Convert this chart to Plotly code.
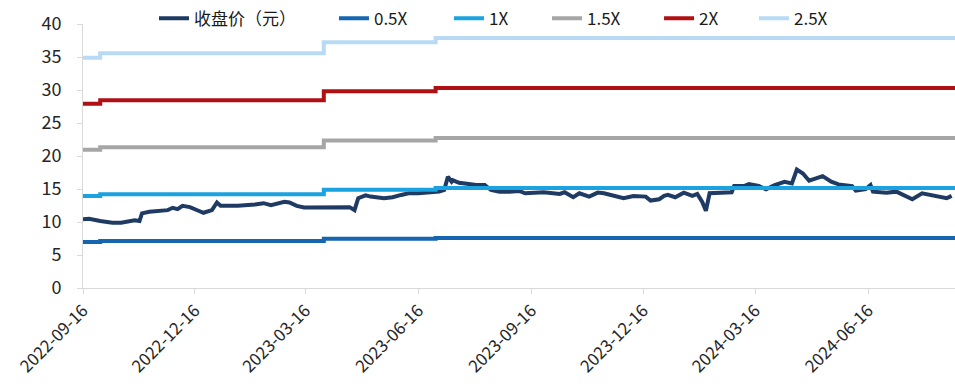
import plotly.graph_objects as go

# Closing price (yuan), sampled trading days
price_dates = [
    "2022-09-16", "2022-09-21", "2022-09-30", "2022-10-10", "2022-10-17", "2022-10-24",
    "2022-10-28", "2022-11-01", "2022-11-03", "2022-11-09", "2022-11-17", "2022-11-24",
    "2022-11-28", "2022-12-02", "2022-12-06", "2022-12-12", "2022-12-19", "2022-12-23",
    "2022-12-30", "2023-01-03", "2023-01-06", "2023-01-13", "2023-01-20", "2023-02-03",
    "2023-02-10", "2023-02-16", "2023-02-27", "2023-03-03", "2023-03-09", "2023-03-15",
    "2023-03-27", "2023-04-10", "2023-04-21", "2023-04-25", "2023-04-28", "2023-05-04",
    "2023-05-08", "2023-05-19", "2023-05-26", "2023-06-02", "2023-06-08", "2023-06-16",
    "2023-06-26", "2023-07-03", "2023-07-07", "2023-07-10", "2023-07-13", "2023-07-14",
    "2023-07-19", "2023-07-24", "2023-07-27", "2023-08-02", "2023-08-09", "2023-08-14",
    "2023-08-21", "2023-08-29", "2023-09-06", "2023-09-11", "2023-09-18", "2023-09-26",
    "2023-10-09", "2023-10-13", "2023-10-20", "2023-10-25", "2023-11-02", "2023-11-09",
    "2023-11-14", "2023-11-22", "2023-11-30", "2023-12-08", "2023-12-18", "2023-12-22",
    "2023-12-29", "2024-01-02", "2024-01-05", "2024-01-11", "2024-01-18", "2024-01-25",
    "2024-01-29", "2024-02-02", "2024-02-05", "2024-02-08", "2024-02-19", "2024-02-26",
    "2024-02-28", "2024-03-07", "2024-03-11", "2024-03-19", "2024-03-25", "2024-04-01",
    "2024-04-09", "2024-04-15", "2024-04-19", "2024-04-24", "2024-04-29", "2024-05-10",
    "2024-05-17", "2024-05-23", "2024-06-03", "2024-06-06", "2024-06-14", "2024-06-18",
    "2024-06-20", "2024-07-01", "2024-07-09", "2024-07-22", "2024-07-30", "2024-08-07",
    "2024-08-19", "2024-08-23",
]
price_values = [
    10.40, 10.50, 10.15, 9.90, 9.90, 10.20,
    10.25, 10.15, 11.30, 11.55, 11.65, 11.80,
    12.15, 11.95, 12.45, 12.25, 11.70, 11.40,
    11.80, 12.95, 12.45, 12.45, 12.45, 12.65,
    12.85, 12.55, 13.05, 12.95, 12.45, 12.20,
    12.20, 12.15, 12.25, 11.80, 13.60, 14.05,
    13.85, 13.60, 13.75, 14.10, 14.35, 14.35,
    14.45, 14.60, 14.85, 16.85, 16.10, 16.35,
    15.95, 15.90, 15.75, 15.60, 15.60, 14.85,
    14.60, 14.60, 14.70, 14.35, 14.35, 14.50,
    14.25, 14.50, 13.75, 14.35, 13.85, 14.45,
    14.35, 13.95, 13.60, 13.95, 13.85, 13.25,
    13.45, 13.95, 14.10, 13.75, 14.45, 13.95,
    14.25, 13.05, 11.70, 14.35, 14.35, 14.50,
    15.45, 15.45, 15.75, 15.45, 14.95, 15.60,
    16.10, 15.85, 17.95, 17.35, 16.25, 16.95,
    16.10, 15.70, 15.45, 14.75, 15.00, 15.60,
    14.60, 14.45, 14.60, 13.45, 14.35, 14.10,
    13.60, 13.95,
]

# Valuation band levels, updated on report dates (step lines)
band_dates = ["2022-09-16", "2022-09-30", "2023-03-31", "2023-06-30", "2024-08-27"]
band_05x = [6.98, 7.11, 7.45, 7.58, 7.58]
band_1x = [13.95, 14.22, 14.90, 15.15, 15.15]
band_15x = [20.93, 21.33, 22.35, 22.73, 22.73]
band_2x = [27.90, 28.44, 29.80, 30.30, 30.30]
band_25x = [34.88, 35.55, 37.25, 37.88, 37.88]

tick_dates = ["2022-09-16", "2022-12-16", "2023-03-16", "2023-06-16",
              "2023-09-16", "2023-12-16", "2024-03-16", "2024-06-16"]
y_ticks = [0, 5, 10, 15, 20, 25, 30, 35, 40]

FONT = "Noto Sans CJK SC, Noto Sans, sans-serif"

series = [
    ("0.5X", band_05x, "#1565B0"),
    ("1X", band_1x, "#1AA3E0"),
    ("1.5X", band_15x, "#A6A6A6"),
    ("2X", band_2x, "#B00F14"),
    ("2.5X", band_25x, "#B8DAF5"),
]

# Legend entry positions (paper x) — one legend per trace
legend_x = [0.0814, 0.2878, 0.4197, 0.5321, 0.6606, 0.7695]

fig = go.Figure()
fig.add_trace(go.Scatter(
    x=price_dates, y=price_values, mode="lines", name="收盘价（元）",
    line=dict(color="#1F3B63", width=4), legend="legend",
))
for i, (name, vals, color) in enumerate(series):
    fig.add_trace(go.Scatter(
        x=band_dates, y=vals, mode="lines", name=name,
        line=dict(color=color, width=4, shape="hv"),
        legend=f"legend{i + 2}",
    ))

legend_common = dict(
    orientation="h", yanchor="middle", y=1.02, xanchor="left",
    font=dict(family=FONT, size=17, color="#1a1a1a"),
    bgcolor="rgba(0,0,0,0)", borderwidth=0,
)
layout_legends = {}
for i, lx in enumerate(legend_x):
    key = "legend" if i == 0 else f"legend{i + 1}"
    layout_legends[key] = dict(legend_common, x=lx)

fig.update_layout(
    width=955, height=387,
    margin=dict(l=83, r=0, t=24, b=99),
    paper_bgcolor="white", plot_bgcolor="white",
    font=dict(family=FONT, size=17, color="#262626"),
    showlegend=True,
    xaxis=dict(
        type="date",
        range=["2022-09-16", "2024-08-25 18:00"],
        tickvals=tick_dates, ticktext=tick_dates,
        tickangle=-45,
        showgrid=False, zeroline=False,
        showline=True, linecolor="#D9D9D9", linewidth=1,
        ticks="outside", ticklen=5, tickcolor="#D9D9D9",
        tickfont=dict(family=FONT, size=17, color="#262626"),
    ),
    yaxis=dict(
        range=[0, 40], tickvals=y_ticks,
        showgrid=False, zeroline=False,
        showline=True, linecolor="#D9D9D9", linewidth=1,
        ticks="outside", ticklen=5, tickcolor="#D9D9D9",
        ticklabelstandoff=12,
        tickfont=dict(family=FONT, size=18, color="#262626"),
    ),
    **layout_legends,
)

fig.write_html("out.html")
